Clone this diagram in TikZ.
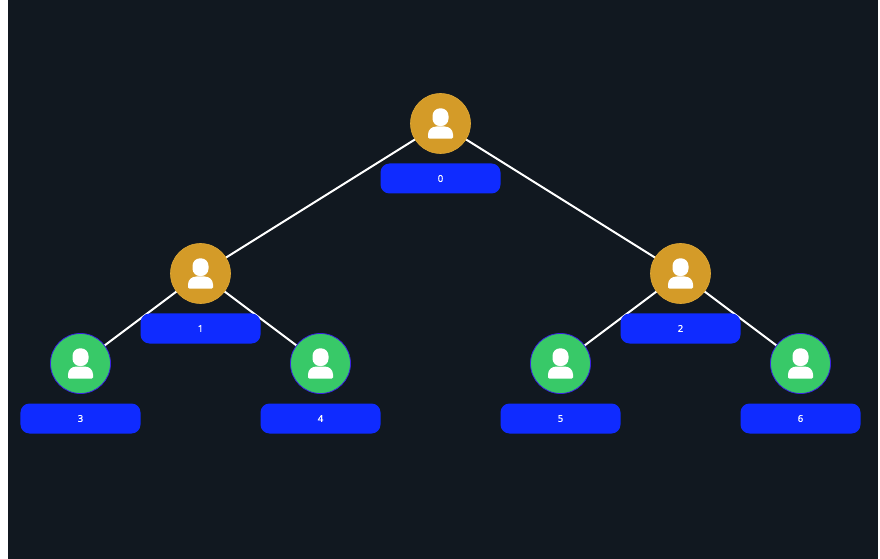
\documentclass[tikz,border=0pt]{standalone}
\usepackage{fontspec}
\setmainfont[FakeBold=0.4]{Noto Sans}
\usetikzlibrary{backgrounds,calc}
\definecolor{bgdark}{HTML}{111820}
\definecolor{goldc}{HTML}{D49B28}
\definecolor{goldb}{HTML}{E0A835}
\definecolor{greenc}{HTML}{38C968}
\definecolor{greenb}{HTML}{3A22E0}
\definecolor{bluec}{HTML}{0F2BFF}
\tikzset{
  x=1bp,y=-1bp,
  every node/.style={inner sep=0pt,outer sep=0pt},
  goldnode/.style={circle,minimum size=60bp,fill=goldc,draw=goldb,line width=.6bp},
  greennode/.style={circle,minimum size=60bp,fill=greenc,draw=greenb,line width=.8bp},
  tag/.style={rectangle,rounded corners=9bp,minimum width=120bp,minimum height=30bp,fill=bluec,text=white,font=\fontsize{9.5bp}{10bp}\selectfont},
  edge/.style={draw=white,line width=2bp},
  persona/.style={fill=white,draw=none}
}
\newcommand{\personicon}[1]{%
  \fill[persona,rounded corners=7.5bp] ($(#1)+(-8,-15.2)$) rectangle ($(#1)+(8,2.6)$);
  \fill[persona] ($(#1)+(-12.5,14)$) -- ($(#1)+(-12.5,11)$)
     .. controls ($(#1)+(-12.5,6)$) and ($(#1)+(-8.5,3)$) .. ($(#1)+(-4,3)$)
     -- ($(#1)+(4,3)$)
     .. controls ($(#1)+(8.5,3)$) and ($(#1)+(12.5,6)$) .. ($(#1)+(12.5,11)$)
     -- ($(#1)+(12.5,14)$)
     .. controls ($(#1)+(12.5,15)$) and ($(#1)+(12,15.2)$) .. ($(#1)+(11,15.2)$)
     -- ($(#1)+(-11,15.2)$)
     .. controls ($(#1)+(-12,15.2)$) and ($(#1)+(-12.5,15)$) .. cycle;
}
\begin{document}
\begin{tikzpicture}
\useasboundingbox (0,0) rectangle (880,559);
\node[goldnode] (n0) at (440.5,123.5) {};
\node[goldnode] (n1) at (200.5,273.5) {};
\node[goldnode] (n2) at (680.5,273.5) {};
\node[greennode] (n3) at (80.5,363.5) {};
\node[greennode] (n4) at (320.5,363.5) {};
\node[greennode] (n5) at (560.5,363.5) {};
\node[greennode] (n6) at (800.5,363.5) {};
\begin{scope}[on background layer]
\fill[white] (0,0) rectangle (880,559);
\fill[bgdark] (8,0) rectangle (878,559);
\draw[edge] (n0.center) -- (n1.center);
\draw[edge] (n0.center) -- (n2.center);
\draw[edge] (n1.center) -- (n3.center);
\draw[edge] (n1.center) -- (n4.center);
\draw[edge] (n2.center) -- (n5.center);
\draw[edge] (n2.center) -- (n6.center);
\end{scope}
\foreach \n in {n0,n1,n2,n3,n4,n5,n6} {\personicon{\n}}
\node[tag] (l0) at (440.5,178.5) {\raisebox{-0.5bp}{0}};
\node[tag] (l1) at (200.5,328.5) {\raisebox{-0.5bp}{1}};
\node[tag] (l2) at (680.5,328.5) {\raisebox{-0.5bp}{2}};
\node[tag] (l3) at (80.5,418.5) {\raisebox{-0.5bp}{3}};
\node[tag] (l4) at (320.5,418.5) {\raisebox{-0.5bp}{4}};
\node[tag] (l5) at (560.5,418.5) {\raisebox{-0.5bp}{5}};
\node[tag] (l6) at (800.5,418.5) {\raisebox{-0.5bp}{6}};
\end{tikzpicture}
\end{document}
